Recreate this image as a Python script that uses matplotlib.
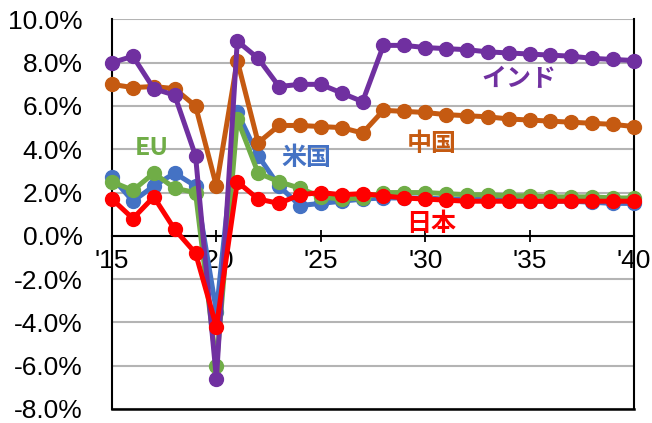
import numpy as np
import matplotlib
matplotlib.use('Agg')
import matplotlib.pyplot as plt
from matplotlib.ticker import FuncFormatter

plt.rcParams['font.family'] = ['Liberation Sans', 'Noto Sans CJK JP', 'DejaVu Sans']

years = list(range(2015, 2041))
japan = [1.7, 0.8, 1.8, 0.3, -0.8, -4.2, 2.5, 1.7, 1.5, 1.9, 2.0, 1.9, 1.95, 1.85, 1.75, 1.7, 1.65,
         1.6, 1.6, 1.6, 1.6, 1.6, 1.6, 1.6, 1.6, 1.6]
us = [2.7, 1.6, 2.3, 2.9, 2.3, -3.5, 5.7, 3.7, 2.3, 1.4, 1.5, 1.6, 1.7, 1.75, 1.75, 1.75, 1.7,
      1.7, 1.7, 1.65, 1.6, 1.6, 1.6, 1.55, 1.5, 1.5]
eu = [2.5, 2.1, 2.9, 2.2, 2.0, -6.0, 5.4, 2.9, 2.5, 2.2, 1.8, 1.7, 1.75, 2.0, 2.0, 2.0, 1.95,
      1.9, 1.9, 1.85, 1.85, 1.8, 1.8, 1.8, 1.75, 1.75]
china = [7.0, 6.85, 6.9, 6.8, 6.0, 2.3, 8.1, 4.3, 5.1, 5.1, 5.05, 5.0, 4.75, 5.8, 5.75, 5.7,
         5.6, 5.55, 5.5, 5.4, 5.35, 5.3, 5.25, 5.2, 5.15, 5.05]
india = [8.0, 8.3, 6.8, 6.5, 3.7, -6.6, 9.0, 8.2, 6.9, 7.0, 7.0, 6.6, 6.2, 8.8, 8.8, 8.7,
         8.65, 8.6, 8.5, 8.45, 8.4, 8.35, 8.3, 8.2, 8.15, 8.1]

xticks = [2015, 2020, 2025, 2030, 2035, 2040]
xtick_labels = ["'15", "'20", "'25", "'30", "'35", "'40"]

series = [
    (us, '#4472C4', '米国', 2024.3, 3.6),
    (eu, '#70AD47', 'EU', 2016.9, 4.05),
    (china, '#C55A11', '中国', 2030.3, 4.25),
    (india, '#7030A0', 'インド', 2034.5, 7.25),
    (japan, '#FF0000', '日本', 2030.3, 0.55),
]

fig = plt.figure(figsize=(6.52, 4.23), dpi=100)
ax = fig.add_axes([0.1718, 0.0331, 0.8006, 0.921])

for vals, col, name, tx, ty in series:
    ax.plot(years, vals, color=col, lw=3.6, marker='o', markersize=10,
            clip_on=False, zorder=3)
    ax.text(tx, ty, name, color=col, fontsize=18, fontweight='bold',
            ha='center', va='center', family=['Noto Sans CJK JP', 'DejaVu Sans'])

ax.set_xlim(2015, 2040)
ax.set_ylim(-8, 10)
ax.set_yticks(np.arange(-8, 10.1, 2))
ax.yaxis.set_major_formatter(FuncFormatter(lambda v, p: '{:.1f}%'.format(v)))
ax.set_xticks(xticks, xtick_labels)

ax.grid(axis='y', color='#B4B4B4', lw=1.5, zorder=0)
ax.set_axisbelow(True)

ax.spines['top'].set_visible(False)
ax.spines['bottom'].set_position(('data', 0))
for s in ['left', 'right', 'bottom']:
    ax.spines[s].set_linewidth(1.5)
    ax.spines[s].set_color('black')
ax.axhline(-8, color='black', lw=1.8, zorder=2, clip_on=False)

ax.tick_params(axis='x', direction='inout', length=9, width=1.3, labelsize=19, pad=5)
ax.tick_params(axis='y', length=0, labelsize=19, pad=21)

fig.savefig('out.png', dpi=100)
